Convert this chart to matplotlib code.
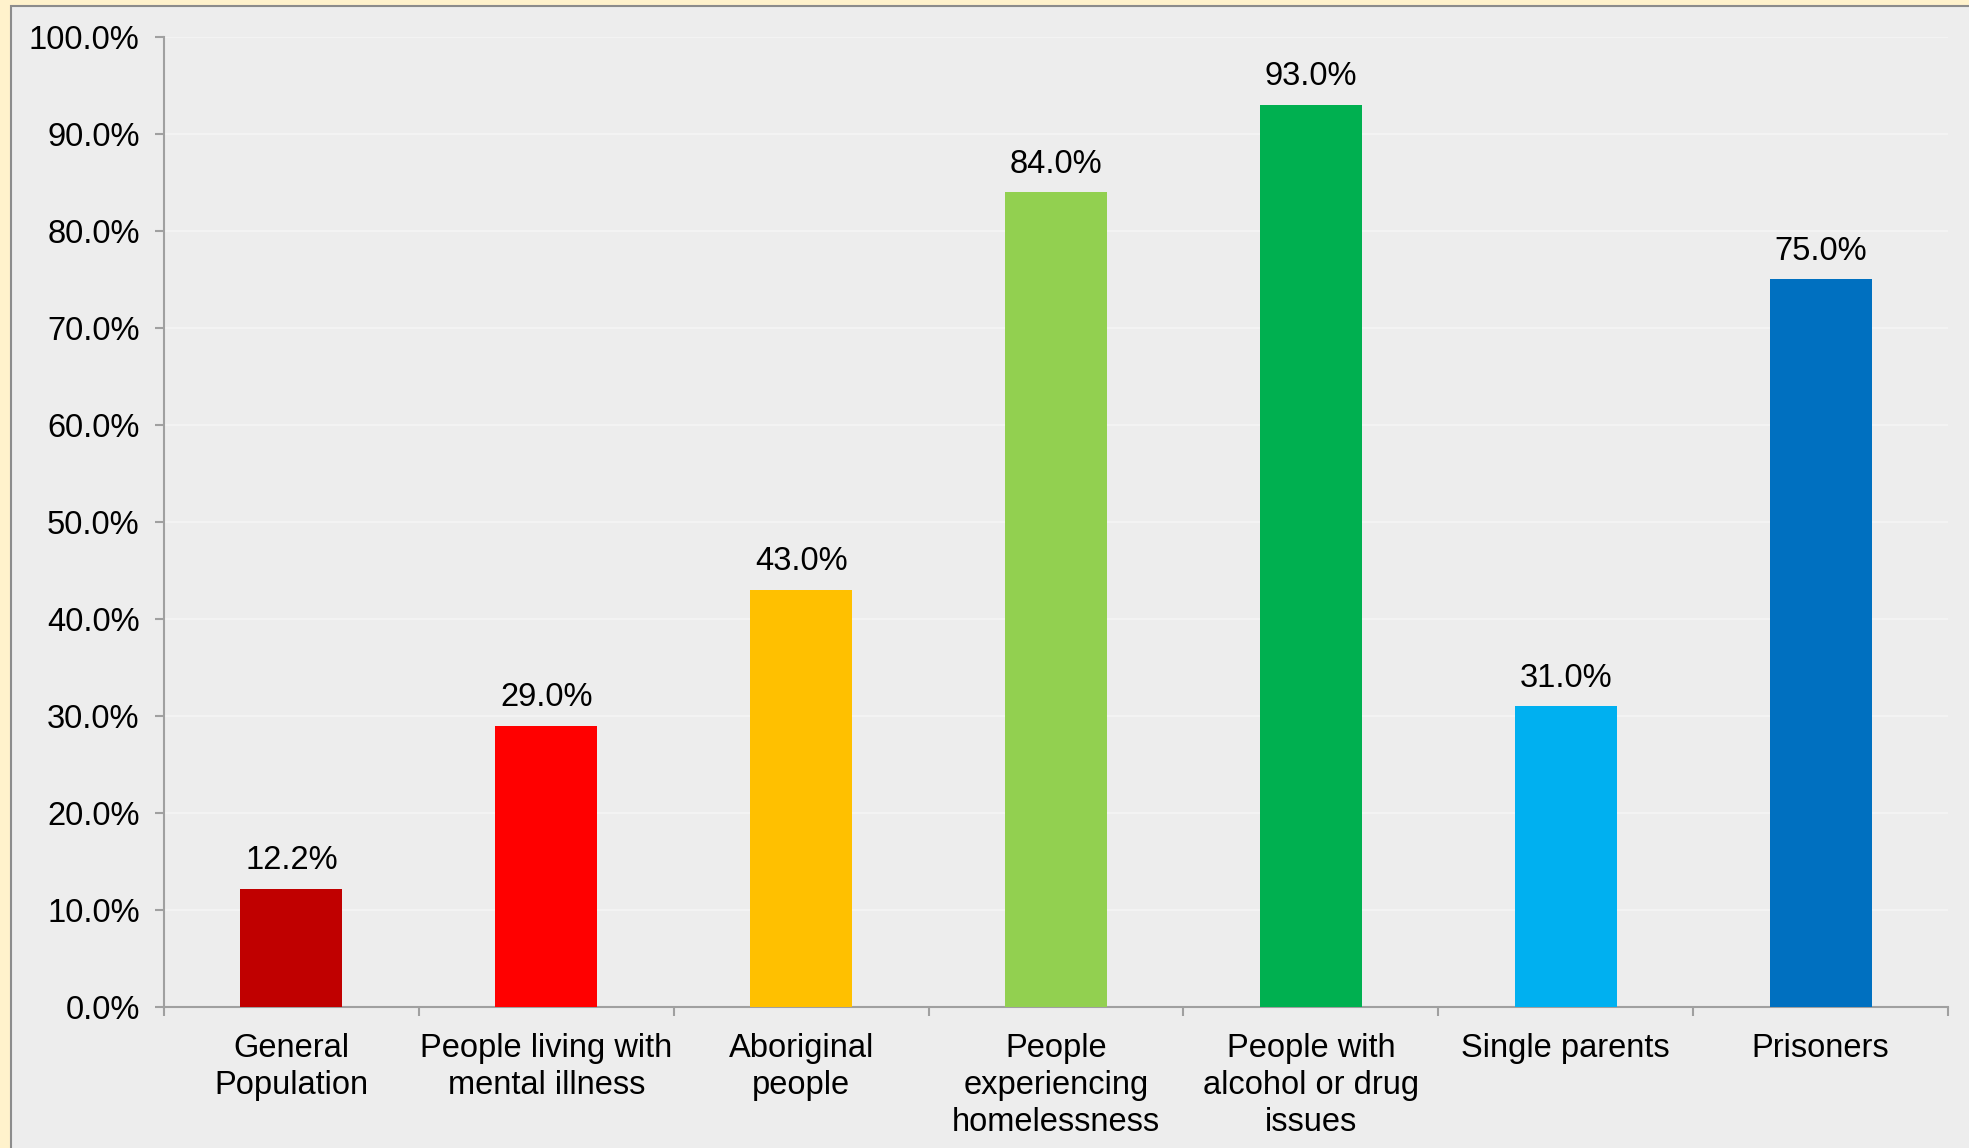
import matplotlib.pyplot as plt
from matplotlib.patches import Rectangle
from matplotlib.ticker import FuncFormatter, FixedLocator, NullFormatter
import numpy as np

plt.rcParams["font.family"] = ["Liberation Sans", "DejaVu Sans"]

categories = ["General\nPopulation", "People living with\nmental illness", "Aboriginal\npeople",
              "People\nexperiencing\nhomelessness", "People with\nalcohol or drug\nissues",
              "Single parents", "Prisoners"]
values = [12.2, 29.0, 43.0, 84.0, 93.0, 31.0, 75.0]
colors = ["#C00000", "#FF0000", "#FFC000", "#92D050", "#00B050", "#00B0F0", "#0070C0"]

fig = plt.figure(figsize=(19.69, 11.48), dpi=100)
fig.patch.set_facecolor("#FFF2CC")
# grey panel behind the chart
fig.patches.append(Rectangle((11 / 1969, -0.01), 1.0, 1 - 6 / 1148 + 0.01, transform=fig.transFigure,
                             facecolor="#EDEDED", edgecolor="#8C8C8C", linewidth=1.5, zorder=-10))

ax = fig.add_axes([164 / 1969, 1 - 1007 / 1148, (1948 - 164) / 1969, (1007 - 37) / 1148])
ax.set_facecolor("none")

fs = 23.5
x = np.arange(len(categories))
ax.bar(x, values, width=0.4, color=colors, zorder=3)
for xi, v in zip(x, values):
    ax.annotate(f"{v:.1f}%", (xi, v), xytext=(0, 9), textcoords="offset points",
                ha="center", va="bottom", fontsize=fs, color="#000000")

ax.set_xlim(-0.5, len(categories) - 0.5)
ax.set_ylim(0, 100)
ax.set_yticks(np.arange(0, 101, 10))
ax.yaxis.set_major_formatter(FuncFormatter(lambda v, p: f"{v:.1f}%"))
ax.yaxis.grid(True, color="#F3F3F3", linewidth=1.5, zorder=1)

# category labels centred, ticks between categories
ax.xaxis.set_major_locator(FixedLocator(np.arange(-0.5, len(categories), 1.0)))
ax.xaxis.set_major_formatter(NullFormatter())
ax.xaxis.set_minor_locator(FixedLocator(x))
ax.set_xticklabels(categories, minor=True, linespacing=1.25)
ax.tick_params(axis="x", which="minor", length=0, pad=18.5, labelsize=fs)
ax.tick_params(axis="x", which="major", length=6.5, width=1.5, color="#A0A0A0", direction="out")
ax.tick_params(axis="y", length=6.5, width=1.5, color="#A0A0A0", labelsize=fs, pad=11)

for s in ["top", "right"]:
    ax.spines[s].set_visible(False)
for s in ["left", "bottom"]:
    ax.spines[s].set_color("#A0A0A0")
    ax.spines[s].set_linewidth(1.5)

fig.savefig("out.png", dpi=100, facecolor=fig.get_facecolor())
